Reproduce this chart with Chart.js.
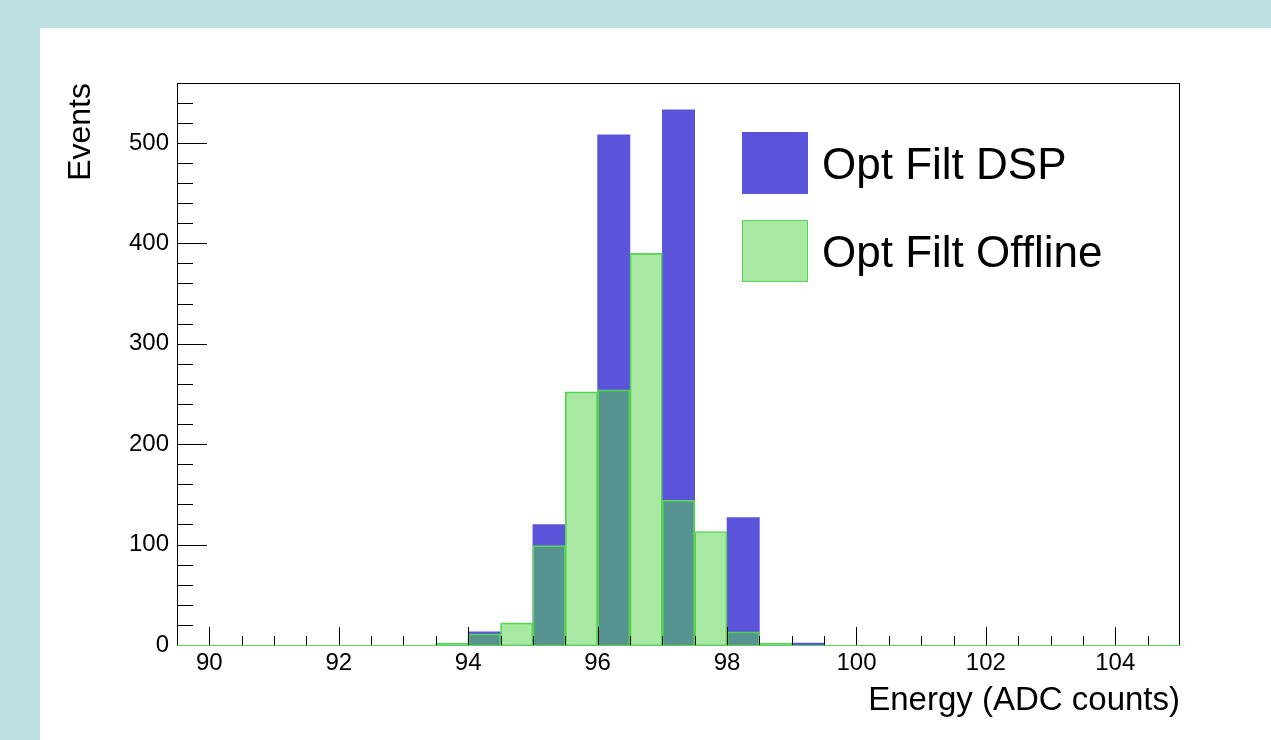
<!DOCTYPE html>
<html>
<head>
<meta charset="utf-8">
<script src="https://cdn.jsdelivr.net/npm/chart.js@4"></script>
<style>
  html, body { margin: 0; padding: 0; background: #bde0e2; }
  #pad { position: absolute; left: 40px; top: 28px; width: 1231px; height: 712px; background: #fff; }
  canvas { display: block; }
</style>
</head>
<body>
<div id="pad"><canvas id="chart" width="1231" height="712"></canvas></div>
<script>
// bin centres (0.5 wide bins), only the non-empty region
const binCenters = [93.75, 94.25, 94.75, 95.25, 95.75, 96.25, 96.75, 97.25, 97.75, 98.25, 98.75, 99.25];
const dspCounts = [0, 13, 0, 120, 0, 508, 0, 533, 0, 127, 0, 2];
const offlineCounts = [2, 11, 22, 99, 252, 254, 390, 144, 113, 13, 2, 0];
const xTicks = [90, 92, 94, 96, 98, 100, 102, 104];
const yTicks = [0, 100, 200, 300, 400, 500];
const seriesNames = ['Opt Filt DSP', 'Opt Filt Offline'];

const FONT = '"Liberation Sans", Arial, Helvetica, sans-serif';
const BLUE = '#5b54db';
const GREEN = '#55d655';
// half-transparent green, stands in for ROOT's checker fill
const GREEN_FILL = 'rgba(81, 209, 71, 0.5)';

const pts = vals => binCenters.map((x, i) => ({ x: x, y: vals[i] }));

// frame, inside ticks, green baseline
const framePlugin = {
    id: 'frame',
    afterDatasetsDraw(chart) {
        const { ctx, chartArea: a, scales } = chart;
        const xs = scales.x, ys = scales.y;
        ctx.save();
        ctx.strokeStyle = '#000';
        ctx.lineWidth = 1;
        ctx.strokeRect(a.left + 0.5, a.top + 0.5, a.right - a.left - 1, a.bottom - a.top);
        ctx.beginPath();
        for (let v = 0; v < ys.max; v += 20) {
            const y = Math.round(ys.getPixelForValue(v)) + 0.5;
            const len = v % 100 === 0 ? 30 : 16;
            ctx.moveTo(a.left, y);
            ctx.lineTo(a.left + len, y);
        }
        for (let v = xs.min + 0.5; v < xs.max; v += 0.5) {
            const x = Math.round(xs.getPixelForValue(v)) + 0.5;
            const len = v % 2 === 0 ? 18 : 9;
            ctx.moveTo(x, a.bottom);
            ctx.lineTo(x, a.bottom - len);
        }
        ctx.stroke();
        ctx.strokeStyle = GREEN;
        ctx.beginPath();
        const y0 = Math.round(ys.getPixelForValue(0)) + 0.5;
        ctx.moveTo(a.left, y0);
        ctx.lineTo(a.right, y0);
        ctx.stroke();
        ctx.restore();
    }
};

// legend inside the frame
const legendPlugin = {
    id: 'boxLegend',
    afterDraw(chart) {
        const { ctx, chartArea: a } = chart;
        const bx = a.left + 565, by = a.top + 49, bw = 66, bh = 62, gap = 88;
        ctx.save();
        ctx.font = '44px ' + FONT;
        ctx.textBaseline = 'alphabetic';
        seriesNames.forEach((name, i) => {
            const y = by + i * gap;
            if (i === 0) {
                ctx.fillStyle = BLUE;
                ctx.fillRect(bx, y, bw, bh);
            } else {
                ctx.fillStyle = GREEN_FILL;
                ctx.fillRect(bx, y, bw, bh);
                ctx.strokeStyle = GREEN;
                ctx.strokeRect(bx + 0.5, y + 0.5, bw - 1, bh - 1);
            }
            ctx.fillStyle = '#000';
            ctx.fillText(name, bx + 80, y + bh / 2 + 15.5);
        });
        ctx.restore();
    }
};

new Chart(document.getElementById('chart'), {
    type: 'bar',
    data: {
        datasets: [
            {
                label: seriesNames[0],
                data: pts(dspCounts),
                backgroundColor: BLUE,
                borderWidth: 0,
                grouped: false,
                order: 2,
                barPercentage: 1,
                categoryPercentage: 1
            },
            {
                label: seriesNames[1],
                data: pts(offlineCounts),
                backgroundColor: GREEN_FILL,
                borderColor: GREEN,
                borderWidth: 1,
                grouped: false,
                order: 1,
                barPercentage: 1,
                categoryPercentage: 1
            }
        ]
    },
    options: {
        responsive: false,
        animation: false,
        layout: { padding: { top: 55, right: 91, left: 0, bottom: 0 } },
        plugins: { legend: { display: false }, tooltip: { enabled: false } },
        scales: {
            x: {
                type: 'linear',
                offset: false,
                min: 89.5,
                max: 105,
                afterBuildTicks: s => { s.ticks = xTicks.map(v => ({ value: v })); },
                afterFit: s => { s.height = 95; },
                grid: { display: false, offset: false },
                border: { display: false },
                ticks: { color: '#000', font: { family: FONT, size: 24 }, padding: -4, maxRotation: 0 },
                title: {
                    display: true, text: 'Energy (ADC counts)', align: 'end', color: '#000',
                    font: { family: FONT, size: 33 }, padding: { top: 0, bottom: 19 }
                }
            },
            y: {
                min: 0,
                max: 559.65,
                afterBuildTicks: s => { s.ticks = yTicks.map(v => ({ value: v })); },
                afterFit: s => { s.width = 137; },
                grid: { display: false },
                border: { display: false },
                ticks: { color: '#000', font: { family: FONT, size: 24 }, padding: 0 },
                title: {
                    display: true, text: 'Events', align: 'end', color: '#000',
                    font: { family: FONT, size: 32 }, padding: { top: 22, bottom: 0 }
                }
            }
        }
    },
    plugins: [framePlugin, legendPlugin]
});
</script>
</body>
</html>
